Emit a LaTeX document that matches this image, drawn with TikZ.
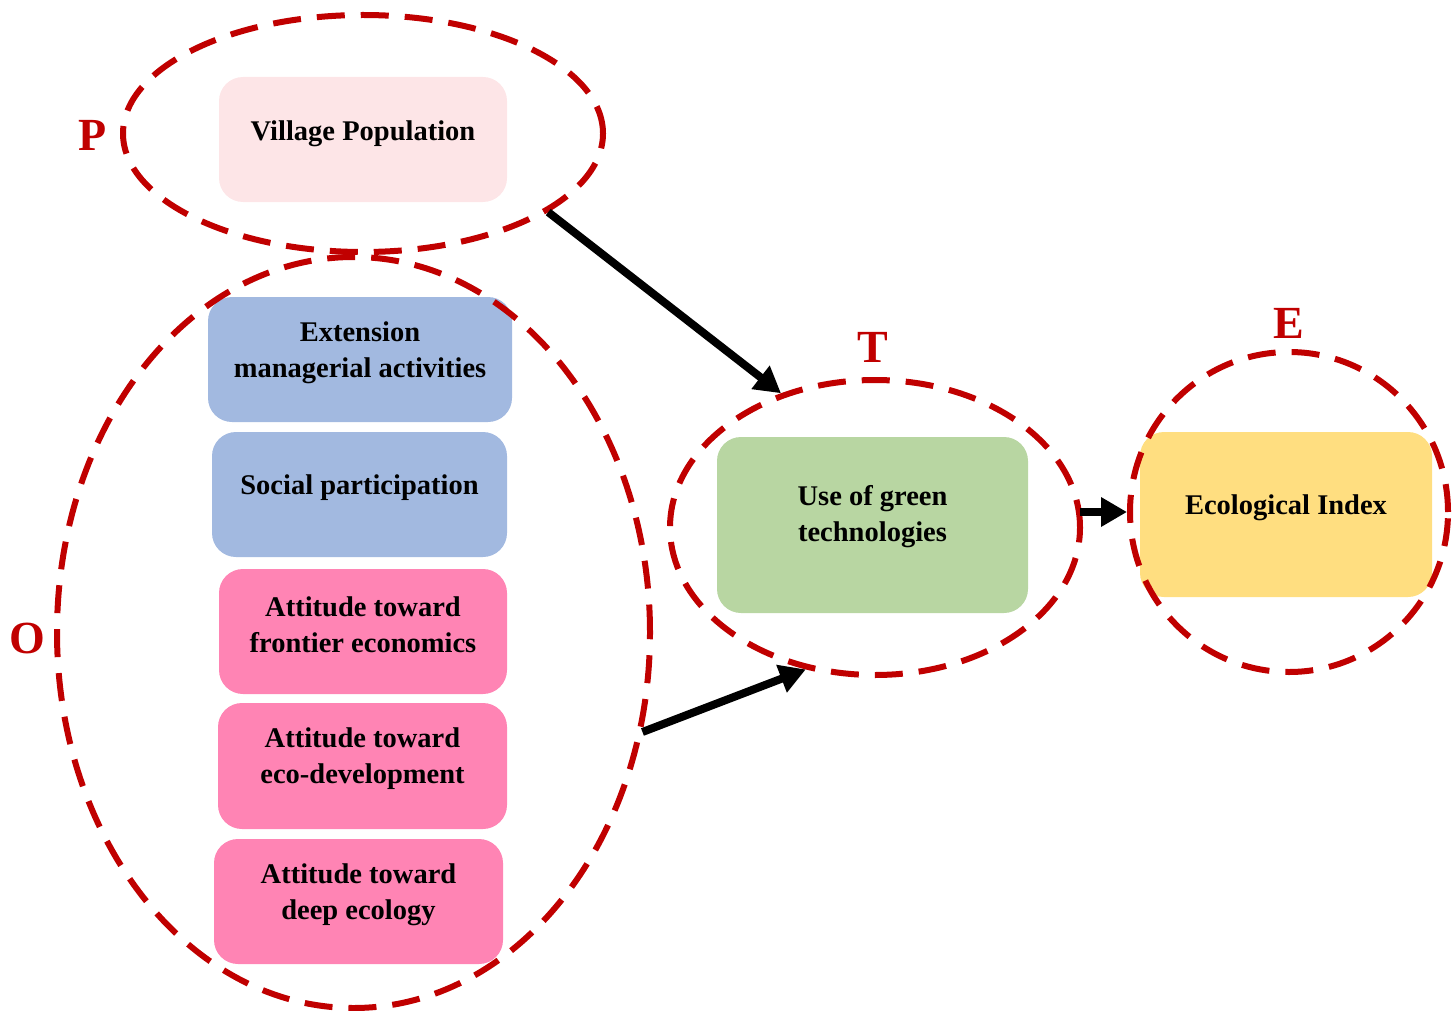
\documentclass[tikz,border=0pt]{standalone}
\usepackage{fontspec}
\setmainfont{Liberation Serif}
\usetikzlibrary{shapes.geometric,arrows.meta}
\definecolor{dred}{HTML}{C00000}
\definecolor{vpink}{HTML}{FDE5E7}
\definecolor{bblue}{HTML}{A2B9E0}
\definecolor{hpink}{HTML}{FF84B4}
\definecolor{lgreen}{HTML}{B8D6A2}
\definecolor{lyellow}{HTML}{FFDE80}
\tikzset{
  boxnode/.style={rectangle, rounded corners=24pt, draw=none, inner sep=0pt},
  txt/.style={font=\fontsize{28.5}{36}\selectfont\bfseries, align=center, inner sep=0pt},
  grp/.style={ellipse, draw=dred, line width=6pt, dash pattern=on 28pt off 16pt, inner sep=0pt},
  grplabel/.style={font=\fontsize{46}{50}\selectfont\bfseries, text=dred, inner sep=0pt},
  conn/.style={line width=8pt, -{Triangle[length=26pt,width=28pt]}}
}
\begin{document}
\begin{tikzpicture}[x=1pt,y=-1pt]
\useasboundingbox (0,0) rectangle (1455,1011);
% boxes
\node[boxnode, fill=vpink, minimum width=288pt, minimum height=125pt] (vp) at (363,139.5) {};
\node[txt] (vpt) at ([yshift=6pt]vp.center) {Village Population};
\node[boxnode, fill=bblue, minimum width=304pt, minimum height=125pt] (ext) at (360,359.5) {};
\node[txt] (extt) at ([yshift=7pt]ext.center) {Extension\\managerial activities};
\node[boxnode, fill=bblue, minimum width=295pt, minimum height=125pt] (soc) at (359.5,494.5) {};
\node[txt] (soct) at ([yshift=7pt]soc.center) {Social participation};
\node[boxnode, fill=hpink, minimum width=288pt, minimum height=125pt] (fro) at (363,631.5) {};
\node[txt] (frot) at ([yshift=7pt]fro.center) {Attitude toward\\frontier economics};
\node[boxnode, fill=hpink, minimum width=289pt, minimum height=126pt] (eco) at (362.5,766) {};
\node[txt] (ecot) at ([yshift=7pt]eco.center) {Attitude toward\\eco-development};
\node[boxnode, fill=hpink, minimum width=289pt, minimum height=125pt] (dee) at (358.5,901.5) {};
\node[txt] (deet) at ([yshift=7pt]dee.center) {Attitude toward\\deep ecology};
\node[boxnode, fill=lgreen, minimum width=311pt, minimum height=176pt] (ugt) at (872.5,525) {};
\node[txt] (ugtt) at ([yshift=8pt]ugt.center) {Use of green\\technologies};
\node[boxnode, fill=lyellow, minimum width=292pt, minimum height=165pt] (ei) at (1286,514.5) {};
\node[txt] (eit) at ([yshift=7pt]ei.center) {Ecological Index};
% group ellipses
\node[grp, minimum width=480pt, minimum height=237pt] (P) at (363,133.5) {};
\node[grp, minimum width=593pt, minimum height=751pt] (O) at (353.5,632.5) {};
\node[grp, minimum width=410pt, minimum height=295pt] (T) at (875,527.5) {};
\node[grp, minimum width=318pt, minimum height=320pt] (E) at (1289,512) {};
% group labels
\node[grplabel] (Pl) at (93,135) {P};
\node[grplabel] (Ol) at (27,638) {O};
\node[grplabel] (Tl) at (873,347) {T};
\node[grplabel] (El) at (1289,323) {E};
% connectors
\draw[conn] (P.-23) -- (T.125);
\draw[conn] (O.-19) -- (T.-116);
\draw[conn] ([xshift=-3pt]T.east |- E.west) -- (E.west);
\end{tikzpicture}
\end{document}
